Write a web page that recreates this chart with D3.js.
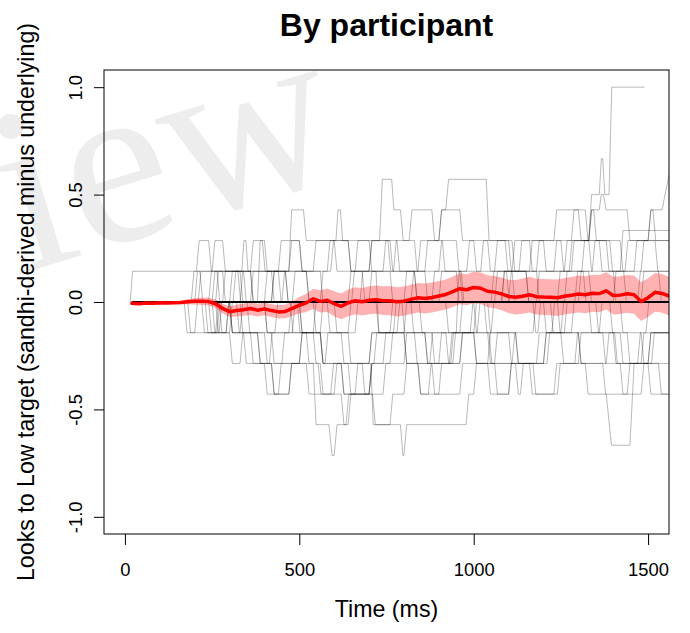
<!DOCTYPE html>
<html>
<head>
<meta charset="utf-8">
<script src="https://cdn.jsdelivr.net/npm/d3@7"></script>
<style>
  html, body { margin: 0; padding: 0; background: #fff; }
  svg { display: block; font-family: "Liberation Sans", Arial, sans-serif; }
</style>
</head>
<body>
<svg id="chart" width="690" height="633"></svg>
<script>
// ---------- DATA ----------
const xTicks = [0, 500, 1000, 1500];
const yTicks = [-1, -0.5, 0, 0.5, 1];

// time grid for group mean (ms)
const times = [20,40,60,80,100,120,140,160,180,200,220,240,260,280,300,320,340,360,380,400,
  420,440,460,480,500,520,540,560,580,600,620,640,660,680,700,720,740,760,780,800,
  820,840,860,880,900,920,940,960,980,1000,1020,1040,1060,1080,1100,1120,1140,1160,1180,1200,
  1220,1240,1260,1280,1300,1320,1340,1360,1380,1400,1420,1440,1460,1480,1500,1520,1540,1560];

const meanDiff = [-0.006,-0.008,-0.005,-0.006,-0.004,-0.005,-0.003,-0.002,0.001,0.003,0.004,0.002,-0.008,-0.03,-0.045,-0.04,-0.036,-0.03,-0.038,-0.032,
  -0.04,-0.046,-0.044,-0.03,-0.015,-0.004,0.015,0.003,0.008,-0.008,-0.02,-0.004,0.006,0.001,0.008,0.011,0.006,0.006,0.001,0.004,
  0.012,0.02,0.016,0.021,0.028,0.035,0.048,0.062,0.057,0.068,0.064,0.05,0.046,0.038,0.026,0.022,0.027,0.034,0.025,0.023,
  0.022,0.02,0.027,0.031,0.037,0.034,0.041,0.039,0.052,0.03,0.032,0.038,0.034,0.002,0.02,0.045,0.04,0.028];

const ciHalf = [0.004,0.004,0.005,0.005,0.005,0.006,0.006,0.008,0.012,0.015,0.017,0.018,0.02,0.022,0.025,0.027,0.028,0.03,0.03,0.03,
  0.03,0.031,0.032,0.034,0.038,0.042,0.047,0.052,0.055,0.058,0.06,0.062,0.063,0.064,0.065,0.066,0.067,0.068,0.068,0.068,
  0.068,0.069,0.07,0.07,0.07,0.07,0.071,0.072,0.072,0.073,0.073,0.074,0.075,0.076,0.077,0.08,0.082,0.083,0.083,0.084,
  0.084,0.085,0.085,0.085,0.086,0.086,0.086,0.087,0.087,0.088,0.088,0.088,0.089,0.09,0.09,0.09,0.09,0.09];

// participants: [start ms, end ms, value] plateaus
const p01 = [[15,15,0],[22,205,.143],[213,240,.286],[248,335,.143],[341,347,.286],[353,470,.143],[478,500,.286],[508,580,.143],[588,640,.286],[648,700,.143],[708,760,.286],[768,830,.143],[838,900,0],[908,980,.143],[988,1040,.286],[1048,1110,.143],[1118,1180,0],[1188,1260,.143],[1268,1330,.286],[1338,1400,.143],[1408,1470,0],[1478,1560,.143]];
const p02 = [[20,240,0],[248,470,.143],[478,512,.429],[520,605,.286],[611,618,.429],[624,730,.286],[738,765,.571],[771,790,.429],[798,815,.286],[823,880,.429],[888,900,.286],[908,920,.429],[928,1036,.571],[1044,1100,.286],[1108,1180,.143],[1188,1250,.286],[1258,1330,.143],[1338,1400,0],[1408,1480,.143],[1488,1560,.286]];
const p03 = [[20,300,0],[308,330,-.143],[338,420,0],[428,560,.143],[568,650,0],[658,720,.143],[728,800,-.143],[808,880,0],[888,960,.143],[968,1060,0],[1068,1130,.143],[1138,1200,.286],[1208,1280,.143],[1288,1330,.286],[1338,1360,.5],[1366,1370,.667],[1376,1388,.5],[1396,1490,1]];
const p04 = [[20,180,0],[188,260,-.143],[268,300,0],[308,380,-.143],[388,420,-.286],[428,470,-.429],[478,540,-.286],[548,585,-.571],[594,600,-.714],[608,640,-.571],[648,700,-.429],[708,760,-.286],[768,830,-.143],[838,900,-.286],[908,960,-.143],[968,1040,0],[1048,1120,-.143],[1128,1200,-.286],[1208,1280,-.143],[1288,1350,0],[1358,1420,-.143],[1428,1500,-.286],[1508,1560,-.143]];
const p05 = [[20,230,0],[238,290,-.143],[298,350,0],[358,420,-.143],[428,500,-.286],[508,560,-.143],[568,620,-.286],[628,660,-.429],[668,705,-.286],[712,790,-.571],[797,800,-.714],[808,978,-.571],[986,1000,-.429],[1008,1060,-.286],[1068,1120,-.143],[1128,1200,-.286],[1208,1260,-.143],[1268,1330,0],[1338,1400,-.143],[1408,1470,-.286],[1478,1560,-.143]];
const p06 = [[20,260,0],[268,330,.143],[338,400,0],[408,470,-.143],[478,540,0],[548,620,-.143],[628,700,-.286],[708,800,-.143],[808,880,-.286],[888,960,-.429],[968,1040,-.286],[1048,1100,-.429],[1108,1180,-.286],[1188,1250,-.143],[1258,1320,-.286],[1328,1380,-.429],[1395,1448,-.667],[1460,1500,-.286],[1508,1560,-.143]];
const p07 = [[20,200,0],[208,280,.143],[288,320,0],[328,380,-.143],[388,450,-.286],[458,520,-.143],[528,560,-.286],[568,600,-.429],[608,680,-.286],[688,740,-.429],[748,800,-.286],[808,860,-.143],[868,930,-.286],[938,1000,-.143],[1008,1080,0],[1088,1150,.143],[1158,1220,0],[1228,1300,-.143],[1308,1370,-.286],[1378,1440,-.429],[1448,1500,-.286],[1508,1560,-.429]];
const p08 = [[20,190,0],[198,215,.143],[223,260,0],[268,290,-.143],[298,330,0],[338,360,.143],[368,400,0],[408,430,-.143],[438,480,0],[488,520,.143],[528,560,0],[568,590,.143],[598,640,.286],[648,680,.143],[688,720,0],[728,770,-.143],[778,820,0],[828,860,.143],[868,910,.286],[918,950,.143],[958,1000,0],[1008,1050,-.143],[1058,1100,0],[1108,1150,.143],[1158,1200,0],[1208,1250,-.143],[1258,1290,0],[1298,1340,.143],[1348,1380,.286],[1388,1430,.143],[1438,1480,0],[1488,1530,.143],[1538,1560,0]];
const p09 = [[20,270,0],[278,300,-.143],[308,360,0],[368,420,.143],[428,450,0],[458,520,.143],[528,580,0],[588,640,-.143],[648,700,0],[708,770,.143],[778,830,.286],[838,900,.143],[908,950,.286],[958,1020,.143],[1028,1090,.286],[1098,1160,.143],[1168,1230,.286],[1238,1300,.429],[1308,1330,.286],[1338,1360,.429],[1366,1372,.5],[1380,1440,.429],[1448,1500,.286],[1508,1540,.429],[1575,1600,.714]];
const p10 = [[20,240,0],[248,300,-.143],[308,330,-.286],[338,360,-.143],[368,420,-.286],[428,440,-.429],[448,500,-.286],[508,560,-.143],[568,620,-.286],[628,700,-.429],[708,740,-.286],[748,800,-.143],[808,840,-.286],[848,870,-.429],[878,940,-.286],[948,1000,-.143],[1008,1060,-.286],[1068,1100,-.429],[1108,1170,-.286],[1178,1240,-.429],[1248,1300,-.286],[1308,1370,-.143],[1378,1420,-.286],[1428,1480,-.429],[1488,1560,-.286]];
const p11 = [[20,280,0],[288,340,.143],[348,400,0],[408,440,.143],[448,500,.286],[508,540,.143],[548,600,.286],[608,660,.143],[668,700,.286],[708,760,.143],[768,800,0],[808,860,.143],[868,920,0],[928,990,-.143],[998,1050,0],[1058,1110,.143],[1118,1160,.286],[1168,1230,.143],[1238,1280,.286],[1288,1320,.429],[1328,1360,.286],[1368,1420,.143],[1428,1500,.333],[1508,1560,.333]];
const p12 = [[20,300,0],[308,360,.143],[368,400,.286],[408,440,.143],[448,500,0],[508,540,-.143],[548,600,0],[608,640,-.143],[648,700,-.286],[708,760,-.143],[768,820,0],[828,880,-.143],[888,960,-.286],[968,1000,-.143],[1008,1040,-.286],[1048,1100,-.143],[1108,1160,-.286],[1168,1230,-.429],[1238,1290,-.286],[1298,1360,-.143],[1368,1420,0],[1428,1480,-.143],[1488,1530,-.286],[1538,1560,-.429]];
const p13 = [[20,210,0],[218,250,.143],[258,280,.286],[288,360,.143],[368,420,0],[428,460,.143],[468,500,0],[508,560,-.143],[568,640,0],[648,700,.143],[708,780,.286],[788,840,.143],[848,900,.286],[908,960,.429],[968,1000,.286],[1008,1060,.143],[1068,1110,.286],[1118,1180,.143],[1188,1240,0],[1248,1310,.143],[1318,1390,.286],[1398,1460,.143],[1468,1520,.286],[1528,1560,.143]];
const p14 = [[20,220,0],[228,270,-.143],[278,300,0],[308,340,-.143],[348,400,-.286],[408,470,-.429],[478,520,-.286],[528,590,-.429],[598,640,-.286],[648,710,-.429],[718,760,-.571],[768,800,-.429],[808,840,-.286],[848,900,-.429],[908,960,-.286],[968,1040,-.143],[1048,1110,-.286],[1118,1170,-.143],[1178,1240,0],[1248,1300,-.143],[1308,1380,-.286],[1388,1440,-.143],[1448,1510,-.286],[1518,1560,-.143]];
const p15 = [[20,170,0],[178,200,-.143],[208,250,0],[258,264,.143],[272,330,0],[338,400,-.143],[408,414,-.286],[422,480,-.143],[488,494,0],[502,560,-.143],[568,574,-.286],[582,660,-.143],[668,674,0],[682,740,.143],[748,754,.286],[762,830,.143],[838,844,0],[852,920,-.143],[928,934,-.286],[942,1010,-.143],[1018,1080,0],[1088,1094,.143],[1102,1170,0],[1178,1184,-.143],[1192,1260,0],[1268,1274,.143],[1282,1330,.286],[1338,1344,.429],[1352,1420,.286],[1428,1434,.143],[1442,1500,.286],[1508,1514,.429],[1522,1560,.286]];
const p16 = [[20,250,0],[258,264,-.143],[272,310,0],[318,324,.143],[332,380,0],[388,394,.286],[402,460,.143],[468,474,0],[482,540,-.143],[548,554,-.286],[562,620,-.429],[628,634,-.571],[642,700,-.429],[708,714,-.286],[722,780,-.143],[788,794,0],[802,860,-.143],[868,874,-.286],[882,950,-.143],[958,964,.143],[972,1030,0],[1038,1044,-.143],[1052,1120,-.286],[1128,1134,-.429],[1142,1210,-.286],[1218,1224,-.143],[1232,1300,0],[1308,1314,.143],[1322,1390,0],[1398,1404,-.143],[1412,1480,-.286],[1488,1494,-.143],[1502,1560,0]];
const participants = [p01,p02,p03,p04,p05,p06,p07,p08,p09,p10,p11,p12,p13,p14,p15,p16];

const titleText = "By participant";
const xLabel = "Time (ms)";
const yLabel = "Looks to Low target (sandhi-derived minus underlying)";

// ---------- DRAW ----------
const svg = d3.select("#chart");
const L = 104, R = 669, T = 70, B = 534;
const x = d3.scaleLinear().domain([-60, 1560]).range([L, R]);
const y = d3.scaleLinear().domain([-1.08, 1.08]).range([B, T]);

// faint watermark
svg.append("text")
  .attr("transform", "translate(23,273) rotate(-17)")
  .attr("font-family", "'Liberation Serif', 'DejaVu Serif', serif")
  .attr("font-size", 236)
  .attr("fill", "#ededed")
  .text("iew");

svg.append("defs").append("clipPath").attr("id", "plotclip")
  .append("rect").attr("x", L).attr("y", T).attr("width", R - L).attr("height", B - T);

const plot = svg.append("g").attr("clip-path", "url(#plotclip)");

const pLine = d3.line().x(d => x(d[0])).y(d => y(d[1]));
participants.forEach(p => {
  const pts = p.flatMap(([a, b, v]) => [[a, v], [b, v]]);
  plot.append("path").attr("d", pLine(pts))
    .attr("fill", "none").attr("stroke", "rgba(0,0,0,0.28)").attr("stroke-width", 1);
});

const band = times.map((t, i) => ({t, m: meanDiff[i], h: ciHalf[i]}));
plot.append("path")
  .attr("d", d3.area().x(d => x(d.t)).y0(d => y(d.m - d.h)).y1(d => y(d.m + d.h))(band))
  .attr("fill", "rgba(255,0,0,0.3)").attr("stroke", "none");

plot.append("path")
  .attr("d", d3.line().x(d => x(d)).y(() => y(0))([times[0], times[times.length - 1]]))
  .attr("stroke", "#000").attr("stroke-width", 2).attr("fill", "none");

plot.append("path")
  .attr("d", d3.line().x(d => x(d.t)).y(d => y(d.m))(band))
  .attr("stroke", "#ff0000").attr("stroke-width", 3.5).attr("fill", "none")
  .attr("stroke-linejoin", "round").attr("stroke-linecap", "round");

// box
svg.append("rect").attr("x", L).attr("y", T).attr("width", R - L).attr("height", B - T)
  .attr("fill", "none").attr("stroke", "#000").attr("stroke-width", 1);

// axes
const gx = svg.append("g").attr("transform", `translate(0,${B})`)
  .call(d3.axisBottom(x).tickValues(xTicks).tickSize(11).tickFormat(d3.format("d")));
gx.select(".domain").remove();
gx.selectAll("line").attr("stroke", "#000");
gx.selectAll("text").attr("y", 42).attr("dy", null)
  .attr("font-size", 18.4).attr("font-family", "'Liberation Sans', Arial, sans-serif").attr("fill", "#000");

const gy = svg.append("g").attr("transform", `translate(${L},0)`)
  .call(d3.axisLeft(y).tickValues(yTicks).tickSize(10).tickFormat(d => d.toFixed(1)));
gy.select(".domain").remove();
gy.selectAll("line").attr("stroke", "#000");
gy.selectAll("text")
  .attr("x", null).attr("dy", null)
  .attr("transform", "translate(-22,0) rotate(-90)")
  .attr("text-anchor", "middle")
  .attr("font-size", 18.4).attr("font-family", "'Liberation Sans', Arial, sans-serif").attr("fill", "#000");

// titles
svg.append("text").attr("x", (L + R) / 2).attr("y", 36).attr("text-anchor", "middle")
  .attr("font-size", 32).attr("font-weight", "bold").text(titleText);
svg.append("text").attr("x", (L + R) / 2).attr("y", 617).attr("text-anchor", "middle")
  .attr("font-size", 23.2).text(xLabel);
svg.append("text").attr("transform", `translate(34,${(T + B) / 2}) rotate(-90)`)
  .attr("text-anchor", "middle").attr("font-size", 23.2).text(yLabel);
</script>
</body>
</html>
